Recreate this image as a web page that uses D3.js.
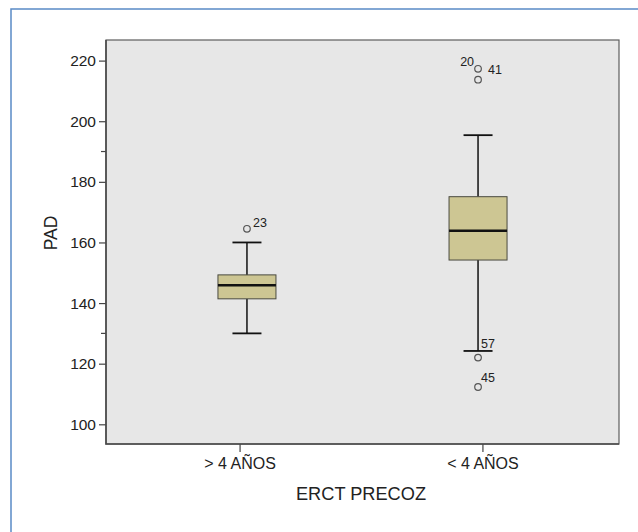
<!DOCTYPE html>
<html>
<head>
<meta charset="utf-8">
<script src="https://cdn.jsdelivr.net/npm/d3@7"></script>
<style>
  body { margin: 0; background: #fff; }
  text { font-family: "Liberation Sans", Arial, sans-serif; fill: #222; }
</style>
</head>
<body>
<svg id="chart" width="638" height="532"></svg>
<script>
// groups and box statistics
const groups = ["> 4 AÑOS", "< 4 AÑOS"];
const q1 = [141.4, 154.2];
const median = [145.9, 163.9];
const q3 = [149.3, 175.1];
const whiskerLow = [130, 124.2];
const whiskerHigh = [160, 195.4];

// outliers: group index, value, case label
const outlierGroup = [0, 1, 1, 1, 1];
const outlierValue = [164.5, 217.3, 213.7, 122.0, 112.3];
const outlierLabel = ["23", "41", "20", "57", "45"];

const yTicks = [100, 120, 140, 160, 180, 200, 220];
const yMinorTicks = [130, 190];

const svg = d3.select("#chart");
const W = 638, H = 532;
const plot = { left: 106, top: 40, right: 619, bottom: 444 };

// blue outer frame (runs off the picture right and bottom)
svg.append("rect")
    .attr("x", 11).attr("y", 9)
    .attr("width", W + 20).attr("height", H + 20)
    .attr("fill", "#fff")
    .attr("stroke", "#5a8ac6")
    .attr("stroke-width", 1.5);

const y = d3.scaleLinear().domain([93.5, 226.8]).range([plot.bottom, plot.top]);
const xBox = d3.scalePoint().domain(groups).range([plot.left, plot.right]).padding(0.61);
const xAxisScale = d3.scalePoint().domain(groups).range([plot.left, plot.right - 3]).padding(0.55);

// plot background
svg.append("rect")
    .attr("x", plot.left).attr("y", plot.top)
    .attr("width", plot.right - plot.left).attr("height", plot.bottom - plot.top)
    .attr("fill", "#e7e7e7")
    .attr("stroke", "#5e5e5e")
    .attr("stroke-width", 1.2);

// y axis
const yAxis = svg.append("g")
    .attr("transform", `translate(${plot.left},0)`)
    .call(d3.axisLeft(y).tickValues(yTicks).tickSize(7).tickPadding(3).tickSizeOuter(0));
yAxis.select(".domain").remove();
yAxis.selectAll("line").attr("stroke", "#444").attr("stroke-width", 1.2);
yAxis.selectAll("text").attr("font-size", 15.5).style("font-family", "Liberation Sans, Arial, sans-serif").attr("fill", "#222");

svg.append("g")
    .selectAll("line")
    .data(yMinorTicks)
    .join("line")
    .attr("x1", plot.left - 5).attr("x2", plot.left)
    .attr("y1", d => y(d)).attr("y2", d => y(d))
    .attr("stroke", "#444").attr("stroke-width", 1.2);

// x axis
const xAxis = svg.append("g")
    .attr("transform", `translate(0,${plot.bottom})`)
    .call(d3.axisBottom(xAxisScale).tickSize(8).tickPadding(6).tickSizeOuter(0));
xAxis.select(".domain").remove();
xAxis.selectAll("line").attr("stroke", "#444").attr("stroke-width", 1.2);
xAxis.selectAll("text").attr("font-size", 16).style("font-family", "Liberation Sans, Arial, sans-serif").attr("fill", "#222");

// axis lines left and bottom
svg.append("path")
    .attr("d", `M${plot.left},${plot.top}V${plot.bottom}H${plot.right}`)
    .attr("fill", "none")
    .attr("stroke", "#4a4a4a")
    .attr("stroke-width", 1.6);

// axis titles
svg.append("text")
    .attr("transform", `translate(57,233) rotate(-90)`)
    .attr("text-anchor", "middle")
    .attr("font-size", 17.5)
    .text("PAD");

svg.append("text")
    .attr("x", 361).attr("y", 500)
    .attr("text-anchor", "middle")
    .attr("font-size", 18.2)
    .text("ERCT PRECOZ");

// boxes
const boxW = 58, capW = 29;
const boxes = svg.append("g")
    .selectAll("g")
    .data(groups)
    .join("g")
    .attr("transform", d => `translate(${xBox(d)},0)`);

boxes.append("line")
    .attr("y1", (d, i) => y(whiskerHigh[i])).attr("y2", (d, i) => y(q3[i]))
    .attr("stroke", "#111").attr("stroke-width", 1.5);
boxes.append("line")
    .attr("y1", (d, i) => y(q1[i])).attr("y2", (d, i) => y(whiskerLow[i]))
    .attr("stroke", "#111").attr("stroke-width", 1.5);
boxes.append("line")
    .attr("x1", -capW / 2).attr("x2", capW / 2)
    .attr("y1", (d, i) => y(whiskerHigh[i])).attr("y2", (d, i) => y(whiskerHigh[i]))
    .attr("stroke", "#111").attr("stroke-width", 1.8);
boxes.append("line")
    .attr("x1", -capW / 2).attr("x2", capW / 2)
    .attr("y1", (d, i) => y(whiskerLow[i])).attr("y2", (d, i) => y(whiskerLow[i]))
    .attr("stroke", "#111").attr("stroke-width", 1.8);
boxes.append("rect")
    .attr("x", -boxW / 2).attr("width", boxW)
    .attr("y", (d, i) => y(q3[i]))
    .attr("height", (d, i) => y(q1[i]) - y(q3[i]))
    .attr("fill", "#cdc693")
    .attr("stroke", "#4a4a40").attr("stroke-width", 1);
boxes.append("line")
    .attr("x1", -boxW / 2).attr("x2", boxW / 2)
    .attr("y1", (d, i) => y(median[i])).attr("y2", (d, i) => y(median[i]))
    .attr("stroke", "#111").attr("stroke-width", 2.5);

// outliers
const outliers = outlierValue.map((v, i) => ({
    g: groups[outlierGroup[i]], v, label: outlierLabel[i]
}));

svg.append("g")
    .selectAll("circle")
    .data(outliers)
    .join("circle")
    .attr("cx", d => xBox(d.g))
    .attr("cy", d => y(d.v))
    .attr("r", 3.3)
    .attr("fill", "none")
    .attr("stroke", "#555")
    .attr("stroke-width", 1.2);

// label placement relative to the point: dx, dy, anchor
const labelPlace = {
    "23": [6, -2, "start"],
    "41": [10, 5, "start"],
    "20": [-4, -3, "end"],
    "57": [3, -10, "start"],
    "45": [3, -5, "start"]
};
// "20" sits beside the upper point of the pair
const labelAnchorValue = { "20": 217.3 };

svg.append("g")
    .selectAll("text")
    .data(outliers)
    .join("text")
    .attr("x", d => xBox(d.g) + labelPlace[d.label][0])
    .attr("y", d => y(labelAnchorValue[d.label] ?? d.v) + labelPlace[d.label][1])
    .attr("text-anchor", d => labelPlace[d.label][2])
    .attr("font-size", 12.5)
    .text(d => d.label);
</script>
</body>
</html>
